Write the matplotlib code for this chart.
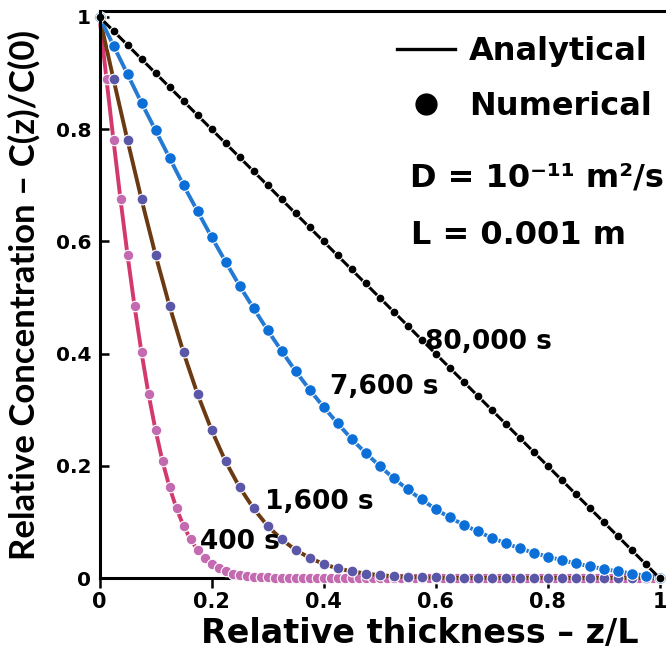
import matplotlib
matplotlib.use("Agg")
import matplotlib.pyplot as plt
from matplotlib.lines import Line2D
from matplotlib.font_manager import FontProperties

# ---------------- data ----------------
z_fine = [0.0, 0.0125, 0.025, 0.0375, 0.05, 0.0625, 0.075, 0.0875, 0.1, 0.1125,
          0.125, 0.1375, 0.15, 0.1625, 0.175, 0.1875, 0.2, 0.2125, 0.225, 0.2375,
          0.25, 0.2625, 0.275, 0.2875, 0.3, 0.3125, 0.325, 0.3375, 0.35, 0.3625,
          0.375, 0.3875, 0.4, 0.4125, 0.425, 0.4375, 0.45, 0.4625, 0.475, 0.4875,
          0.5, 0.5125, 0.525, 0.5375, 0.55, 0.5625, 0.575, 0.5875, 0.6, 0.6125,
          0.625, 0.6375, 0.65, 0.6625, 0.675, 0.6875, 0.7, 0.7125, 0.725, 0.7375,
          0.75, 0.7625, 0.775, 0.7875, 0.8, 0.8125, 0.825, 0.8375, 0.85, 0.8625,
          0.875, 0.8875, 0.9, 0.9125, 0.925, 0.9375, 0.95, 0.9625, 0.975, 0.9875,
          1.0]

z_coarse = [0.0, 0.025, 0.05, 0.075, 0.1, 0.125, 0.15, 0.175, 0.2, 0.225,
            0.25, 0.275, 0.3, 0.325, 0.35, 0.375, 0.4, 0.425, 0.45, 0.475,
            0.5, 0.525, 0.55, 0.575, 0.6, 0.625, 0.65, 0.675, 0.7, 0.725,
            0.75, 0.775, 0.8, 0.825, 0.85, 0.875, 0.9, 0.925, 0.95, 0.975,
            1.0]

c_400 = [1.000, 0.889, 0.780, 0.675, 0.576, 0.485, 0.402, 0.328, 0.264, 0.208,
         0.162, 0.124, 0.093, 0.069, 0.050, 0.036, 0.025, 0.017, 0.012, 0.008,
         0.005, 0.003, 0.002, 0.001, 0.001, 0.0, 0.0, 0.0, 0.0, 0.0,
         0.0, 0.0, 0.0, 0.0, 0.0, 0.0, 0.0, 0.0, 0.0, 0.0,
         0.0, 0.0, 0.0, 0.0, 0.0, 0.0, 0.0, 0.0, 0.0, 0.0,
         0.0, 0.0, 0.0, 0.0, 0.0, 0.0, 0.0, 0.0, 0.0, 0.0,
         0.0, 0.0, 0.0, 0.0, 0.0, 0.0, 0.0, 0.0, 0.0, 0.0,
         0.0, 0.0, 0.0, 0.0, 0.0, 0.0, 0.0, 0.0, 0.0, 0.0,
         0.0]

c_1600 = [1.000, 0.889, 0.780, 0.675, 0.576, 0.485, 0.402, 0.328, 0.264, 0.208,
          0.162, 0.124, 0.093, 0.069, 0.050, 0.036, 0.025, 0.017, 0.012, 0.008,
          0.005, 0.003, 0.002, 0.001, 0.001, 0.0, 0.0, 0.0, 0.0, 0.0,
          0.0, 0.0, 0.0, 0.0, 0.0, 0.0, 0.0, 0.0, 0.0, 0.0,
          0.0]

c_7600 = [1.000, 0.949, 0.898, 0.847, 0.798, 0.749, 0.700, 0.654, 0.608, 0.564,
          0.521, 0.481, 0.442, 0.405, 0.369, 0.336, 0.305, 0.276, 0.248, 0.223,
          0.200, 0.178, 0.158, 0.140, 0.123, 0.108, 0.095, 0.083, 0.072, 0.062,
          0.053, 0.045, 0.038, 0.032, 0.026, 0.021, 0.016, 0.012, 0.008, 0.004,
          0.000]

c_80000 = [1.000, 0.975, 0.950, 0.925, 0.900, 0.875, 0.850, 0.825, 0.800, 0.775,
           0.750, 0.725, 0.700, 0.675, 0.650, 0.625, 0.600, 0.575, 0.550, 0.525,
           0.500, 0.475, 0.450, 0.425, 0.400, 0.375, 0.350, 0.325, 0.300, 0.275,
           0.250, 0.225, 0.200, 0.175, 0.150, 0.125, 0.100, 0.075, 0.050, 0.025,
           0.000]

curve_labels = ["400 s", "1,600 s", "7,600 s", "80,000 s"]
x_ticks = [0, 0.2, 0.4, 0.6, 0.8, 1.0]
x_tick_labels = ["0", "0.2", "0.4", "0.6", "0.8", "1"]
y_ticks = [0, 0.2, 0.4, 0.6, 0.8, 1.0]
y_tick_labels = ["0", "0.2", "0.4", "0.6", "0.8", "1"]

# ---------------- styling ----------------
W, H = 666, 664
fig = plt.figure(figsize=(W / 100, H / 100), dpi=100)
left_px, right_px, bottom_px, top_px = 99.5, 666.5, 578, 11
ax = fig.add_axes([left_px / W, (H - bottom_px) / H,
                   (right_px - left_px) / W, (bottom_px - top_px) / H])
px_per_x = 560.0
px_per_y = 561.0
ax.set_xlim(0, (right_px - left_px) / px_per_x)
ax.set_ylim(0, (bottom_px - top_px) / px_per_y)

bold = dict(family="DejaVu Sans", weight="bold")

series = [
    # x, y, line colour, dot colour, marker size, line width, zorder
    (z_fine, c_400, "#D3386F", "#C46AB0", 7.6, 2.8, 3),
    (z_coarse, c_1600, "#6B3A12", "#5B57A8", 7.8, 2.8, 4),
    (z_coarse, c_7600, "#2479D2", "#0C6FD8", 8.4, 2.8, 5),
    (z_coarse, c_80000, "#000000", "#000000", 6.4, 2.2, 6),
]
for x, y, lc, dc, ms, lw, zo in series:
    ax.plot(x, y, color=lc, lw=lw, zorder=zo, clip_on=False,
            solid_capstyle="butt")
    ax.plot(x, y, "o", ms=ms, mfc=dc, mec="white", mew=0.8,
            zorder=zo + 0.5, clip_on=False)

# curve annotations
label_pos = [(0.180, 0.064), (0.296, 0.136), (0.412, 0.340), (0.582, 0.421)]
for txt, (lx, ly) in zip(curve_labels, label_pos):
    ax.text(lx, ly, txt, ha="left", va="center", fontsize=19, zorder=10,
            **bold)

# axes / spines
ax.spines["right"].set_visible(False)
for s in ["left", "top", "bottom"]:
    ax.spines[s].set_linewidth(2.2)
ax.spines["bottom"].set_bounds(0, 1)
ax.spines["left"].set_zorder(7)
ax.spines["bottom"].set_zorder(2)

ax.set_xticks(x_ticks)
ax.set_xticklabels(x_tick_labels)
ax.set_yticks(y_ticks)
ax.set_yticklabels(y_tick_labels)
ax.tick_params(axis="x", direction="out", length=7, width=1.8, pad=3,
               labelsize=15)
ax.tick_params(axis="y", direction="in", length=6.5, width=1.8, pad=6,
               labelsize=14.5)
for lab in ax.get_xticklabels() + ax.get_yticklabels():
    lab.set_fontweight("bold")
    lab.set_family("DejaVu Sans")

ax.set_xlabel("Relative thickness \u2013 z/L", fontsize=24, **bold)
ax.xaxis.set_label_coords((420 - left_px) / (right_px - left_px),
                          -(617 - bottom_px) / (bottom_px - top_px))
ax.set_ylabel("Relative Concentration \u2013 C(z)/C(0)", fontsize=25,
              family="Lato", weight="bold")
ax.yaxis.set_label_coords(-(left_px - 41) / (right_px - left_px), 0.5)

# legend
handles = [Line2D([], [], color="black", lw=2.4),
           Line2D([], [], color="black", marker="o", ls="", ms=15)]
leg = ax.legend(handles, ["Analytical", "Numerical"],
                loc="upper left", bbox_to_anchor=(397 / W, 1 - 36 / H),
                bbox_transform=fig.transFigure, frameon=False,
                borderpad=0, borderaxespad=0, handlelength=1.8,
                handletextpad=0.45, labelspacing=0.75,
                prop=FontProperties(family="DejaVu Sans", weight="bold",
                                    size=23))

fig.text(410 / W, 1 - 178 / H, "D = 10\u207b\u00b9\u00b9 m\u00b2/s",
         ha="left", va="center", fontsize=23, **bold)
fig.text(411 / W, 1 - 235 / H, "L = 0.001 m",
         ha="left", va="center", fontsize=23, **bold)

fig.savefig("out.png", dpi=100)
